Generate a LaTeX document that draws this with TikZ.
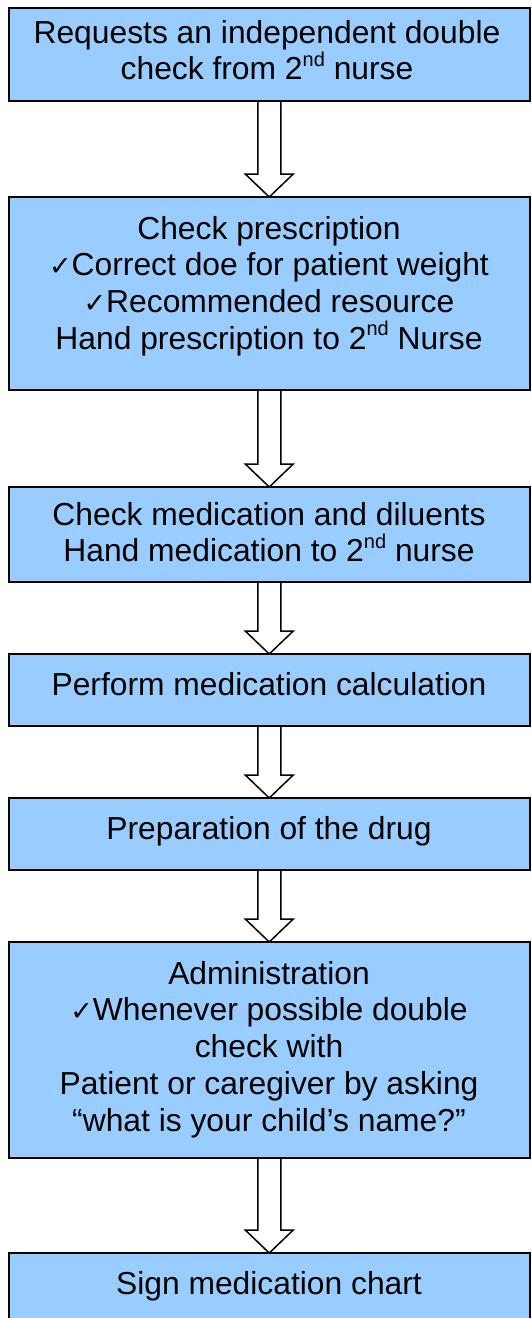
\documentclass[tikz,border=0pt]{standalone}
\usepackage{fontspec}
\setmainfont{Liberation Sans}
\newfontfamily\djv{DejaVu Sans}
\usetikzlibrary{calc,backgrounds}
\definecolor{boxblue}{HTML}{99CCFF}
\newcommand{\ck}{{\djv\fontsize{27}{27}\selectfont ✓}}
\newcommand{\nd}{\raisebox{0.42em}{\fontsize{20}{20}\selectfont nd}}
\newcommand{\barr}[2]{%
  \draw[barrow] ($(#1.south)+(-11.5,0)$) -- ($(#2.north)+(-11.5,-23)$) -- ($(#2.north)+(-24,-23)$) -- (#2.north) -- ($(#2.north)+(24,-23)$) -- ($(#2.north)+(11.5,-23)$) -- ($(#1.south)+(11.5,0)$);}
\begin{document}
\begin{tikzpicture}[x=1pt,y=-1pt,
  box/.style={draw=black, line width=2pt, fill=boxblue, minimum width=521.5pt, inner sep=0pt, outer sep=0pt},
  txt/.style={anchor=north, align=center, inner sep=0pt, font=\fontsize{31.8}{36.7}\selectfont},
  barrow/.style={draw=black, line width=1.5pt, fill=white, line join=miter}]
\useasboundingbox (0,0) rectangle (531,1318);
\clip (0,0) rectangle (531,1318);
\node[box, minimum height=93pt]  (b1) at (269.25,54.5) {};
\node[box, minimum height=193pt] (b2) at (269.25,293.5) {};
\node[box, minimum height=95pt]  (b3) at (269.25,534.5) {};
\node[box, minimum height=72pt]  (b4) at (269.25,690) {};
\node[box, minimum height=72pt]  (b5) at (269.25,834) {};
\node[box, minimum height=216pt] (b6) at (269.25,1050) {};
\node[box, minimum height=87pt]  (b7) at (269.25,1296.5) {};
\node[txt] (t1) at (267,20) {Requests an independent double\\check from 2\nd{} nurse};
\node[txt] (t2) at (269,216) {Check prescription\\\ck Correct doe for patient weight\\\ck Recommended resource\\Hand prescription to 2\nd{} Nurse};
\node[txt] (t3) at (269,502) {Check medication and diluents\\Hand medication to 2\nd{} nurse};
\node[txt] (t4) at (269,672) {Perform medication calculation};
\node[txt] (t5) at (269,816) {Preparation of the drug};
\node[txt] (t6) at (269,961) {Administration\\\ck Whenever possible double\\check with\\Patient or caregiver by asking\\“what is your child’s name?”};
\node[txt] (t7) at (269,1271) {Sign medication chart};
\begin{scope}[on background layer]
\barr{b1}{b2}
\barr{b2}{b3}
\barr{b3}{b4}
\barr{b4}{b5}
\barr{b5}{b6}
\barr{b6}{b7}
\end{scope}
\end{tikzpicture}
\end{document}
